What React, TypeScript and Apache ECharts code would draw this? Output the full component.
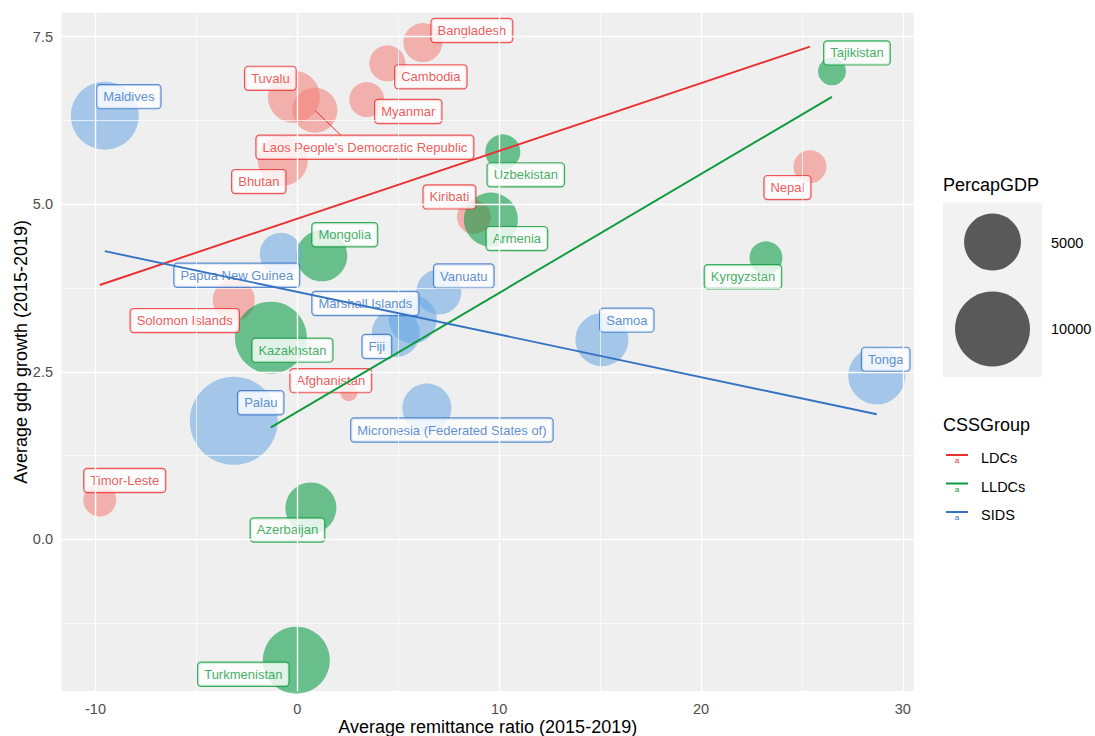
import React, { useEffect, useRef } from "react";
import * as echarts from "echarts";

// ---------- data ----------
const ldcNames = ["Bangladesh", "Cambodia", "Myanmar", "Tuvalu", "Laos People's Democratic Republic", "Bhutan", "Kiribati", "Solomon Islands", "Afghanistan", "Timor-Leste", "Nepal"];
const ldcRemit = [6.22, 4.46, 3.44, -0.17, 0.87, -0.72, 8.75, -3.15, 2.55, -9.79, 25.4];
const ldcGrowth = [7.41, 7.1, 6.56, 6.6, 6.4, 5.65, 4.81, 3.57, 2.19, 0.59, 5.56];
const ldcGdp = [1870, 1520, 1420, 3960, 2720, 3580, 1320, 2270, 500, 1220, 1220];

const lldcNames = ["Tajikistan", "Uzbekistan", "Armenia", "Mongolia", "Kyrgyzstan", "Kazakhstan", "Azerbaijan", "Turkmenistan"];
const lldcRemit = [26.49, 10.18, 9.59, 1.21, 23.22, -1.31, 0.67, -0.05];
const lldcGrowth = [6.98, 5.78, 4.77, 4.23, 4.2, 3.01, 0.47, -1.8];
const lldcGdp = [840, 1420, 4370, 3770, 1220, 9050, 3770, 7570];

const sidsNames = ["Maldives", "Papua New Guinea", "Vanuatu", "Marshall Islands", "Fiji", "Samoa", "Tonga", "Palau", "Micronesia (Federated States of)"];
const sidsRemit = [-9.54, -0.82, 7.01, 5.72, 4.88, 15.09, 28.71, -3.15, 6.42];
const sidsGrowth = [6.32, 4.26, 3.69, 3.28, 3.08, 2.98, 2.44, 1.77, 1.96];
const sidsGdp = [7850, 2270, 2720, 3220, 3220, 4160, 5020, 14750, 3390];

const xTicks = [-10, 0, 10, 20, 30];
const yTicks = [0, 2.5, 5, 7.5];
const xMinor = [-5, 5, 15, 25];
const yMinor = [-1.25, 1.25, 3.75, 6.25];
const sizeLegendValues = [5000, 10000];
const groupNames = ["LDCs", "LLDCs", "SIDS"];

// ---------- label placement (pixel offsets from the point, repel-style) ----------
const ldcLabelOffset = [[49, -12], [43.5, 13.5], [41.5, 12], [-23.5, -18.5], [50, 37], [-24, 21], [-24.5, -20], [-49, 20.5], [-18, -12], [25, -19.5], [-22.5, 21]];
const lldcLabelOffset = [[25, -18.5], [23, 23], [26, 19], [23, -21], [-23, 19], [21.5, 12.5], [-23.4, 22], [-53, 14]];
const sidsLabelOffset = [[24, -19], [-44, 21.5], [25, -16], [-47.4, -16], [-19, 13.5], [25, -19.5], [9, -16.5], [27, -18], [25, 22]];
const laosSegmentEnd = [26, 25];

// ---------- styles ----------
const lineColors = ["#EB2F2F", "#0C9B3A", "#3473C4"];
const bubbleColors = ["rgba(244,126,120,0.7)", "rgba(0,154,62,0.7)", "rgba(103,166,229,0.7)"];
const FONT = "'Liberation Sans', Arial, Helvetica, sans-serif";

const sizeOf = (g: number) => 17 + 71 * Math.sqrt(Math.max(0, g - 500) / 14250);

function fit(xs: number[], ys: number[]) {
  const n = xs.length;
  const mx = xs.reduce((a, b) => a + b, 0) / n;
  const my = ys.reduce((a, b) => a + b, 0) / n;
  let sxy = 0, sxx = 0;
  for (let i = 0; i < n; i++) {
    sxy += (xs[i] - mx) * (ys[i] - my);
    sxx += (xs[i] - mx) * (xs[i] - mx);
  }
  const b = sxy / sxx;
  const a = my - b * mx;
  const x0 = Math.min(...xs), x1 = Math.max(...xs);
  return [[x0, a + b * x0], [x1, a + b * x1]];
}

const groups = [
  { names: ldcNames, xs: ldcRemit, ys: ldcGrowth, gdp: ldcGdp, off: ldcLabelOffset },
  { names: lldcNames, xs: lldcRemit, ys: lldcGrowth, gdp: lldcGdp, off: lldcLabelOffset },
  { names: sidsNames, xs: sidsRemit, ys: sidsGrowth, gdp: sidsGdp, off: sidsLabelOffset },
];

export default function App() {
  const ref = useRef<HTMLDivElement>(null);
  useEffect(() => {
    if (!ref.current) return;
    document.body.style.margin = "0";
    document.body.style.overflow = "hidden";
    const chart = echarts.init(ref.current, undefined, { renderer: "svg" });

    const gridMark = {
      silent: true,
      symbol: ["none", "none"],
      label: { show: false },
      emphasis: { disabled: true },
      lineStyle: { color: "#FFFFFF", type: "solid", width: 1.4 },
      data: [
        ...xTicks.map((v) => ({ xAxis: v, lineStyle: { color: "#FFFFFF", width: 1.4, type: "solid" } })),
        ...xMinor.map((v) => ({ xAxis: v, lineStyle: { color: "#FFFFFF", width: 0.7, type: "solid" } })),
        ...yTicks.map((v) => ({ yAxis: v, lineStyle: { color: "#FFFFFF", width: 1.4, type: "solid" } })),
        ...yMinor.map((v) => ({ yAxis: v, lineStyle: { color: "#FFFFFF", width: 0.7, type: "solid" } })),
      ],
    };

    const series: any[] = [
      { type: "scatter", name: "grid", data: [], z: 1, silent: true, markLine: gridMark },
    ];

    groups.forEach((g, gi) => {
      series.push({
        type: "scatter",
        name: groupNames[gi] + "-points",
        z: 2,
        silent: true,
        clip: true,
        data: g.xs.map((x, i) => [x, g.ys[i], g.gdp[i]]),
        symbolSize: (val: number[]) => sizeOf(val[2]),
        itemStyle: { color: bubbleColors[gi] },
      });
    });

    // Laos segment
    series.push({
      type: "custom",
      name: "segment",
      z: 3,
      silent: true,
      data: [[ldcRemit[4], ldcGrowth[4]]],
      renderItem: (_params: any, api: any) => {
        const p = api.coord([api.value(0), api.value(1)]);
        return {
          type: "line",
          shape: { x1: p[0], y1: p[1], x2: p[0] + laosSegmentEnd[0], y2: p[1] + laosSegmentEnd[1] },
          style: { stroke: lineColors[0], lineWidth: 1 },
        };
      },
    });

    groups.forEach((g, gi) => {
      series.push({
        type: "scatter",
        name: groupNames[gi] + "-labels",
        z: 4,
        silent: true,
        clip: false,
        symbolSize: 1,
        itemStyle: { color: "rgba(0,0,0,0)" },
        data: g.xs.map((x, i) => ({
          value: [x, g.ys[i]],
          name: g.names[i],
          label: { offset: g.off[i] },
        })),
        label: {
          show: true,
          position: "inside",
          formatter: "{b}",
          fontFamily: FONT,
          fontSize: 13,
          lineHeight: 15,
          color: lineColors[gi],
          backgroundColor: "#FFFFFF",
          borderColor: lineColors[gi],
          borderWidth: 1.2,
          borderRadius: 3,
          padding: [4, 6, 4, 6],
        },
      });
    });

    groups.forEach((g, gi) => {
      series.push({
        type: "line",
        name: groupNames[gi],
        z: 5,
        silent: true,
        symbol: "none",
        data: fit(g.xs, g.ys),
        lineStyle: { color: lineColors[gi], width: 1.9 },
      });
    });

    const s5 = sizeOf(sizeLegendValues[0]);
    const s10 = sizeOf(sizeLegendValues[1]);
    const graphic: any[] = [
      { type: "text", left: 943, top: 176, style: { text: "PercapGDP", font: `18px ${FONT}`, fill: "#000" } },
      { type: "rect", shape: { x: 943, y: 203, width: 99, height: 174 }, style: { fill: "#F2F2F2" } },
      { type: "circle", shape: { cx: 992.5, cy: 242, r: s5 / 2 }, style: { fill: "#595959" } },
      { type: "circle", shape: { cx: 992.5, cy: 329, r: s10 / 2 }, style: { fill: "#595959" } },
      { type: "text", left: 1051, top: 235, style: { text: String(sizeLegendValues[0]), font: `14.5px ${FONT}`, fill: "#000" } },
      { type: "text", left: 1051, top: 321, style: { text: String(sizeLegendValues[1]), font: `14.5px ${FONT}`, fill: "#000" } },
      { type: "text", left: 943, top: 416, style: { text: "CSSGroup", font: `18px ${FONT}`, fill: "#000" } },
    ];
    const keyY = [458, 486.5, 515];
    groupNames.forEach((nm, gi) => {
      const y = keyY[gi];
      graphic.push({ type: "line", shape: { x1: 946, y1: y - 3, x2: 968, y2: y - 3 }, style: { stroke: lineColors[gi], lineWidth: 2 } });
      graphic.push({ type: "text", x: 957, y: y + 2.5, style: { text: "a", font: `8px ${FONT}`, fill: lineColors[gi], align: "center", verticalAlign: "middle" } });
      graphic.push({ type: "text", x: 981, y: y, style: { text: nm, font: `14.5px ${FONT}`, fill: "#000", verticalAlign: "middle" } });
    });

    chart.setOption({
      animation: false,
      backgroundColor: "#FFFFFF",
      textStyle: { fontFamily: FONT },
      grid: {
        left: 61.5,
        right: 181,
        top: 12.7,
        bottom: 45,
        show: true,
        backgroundColor: "#EFEFEF",
        borderWidth: 0,
        containLabel: false,
        outerBoundsMode: "none",
      },
      xAxis: {
        type: "value",
        min: -11.685,
        max: 30.555,
        name: "Average remittance ratio (2015-2019)",
        nameLocation: "middle",
        nameGap: 35.5,
        nameMoveOverlap: false,
        nameTextStyle: { fontSize: 18, color: "#000", fontFamily: FONT, verticalAlign: "middle" },
        axisLine: { show: false },
        axisTick: { show: true, length: 4, lineStyle: { color: "#333", width: 1.1 }, customValues: xTicks },
        axisLabel: { customValues: xTicks, color: "#4D4D4D", fontSize: 14.5, fontFamily: FONT, margin: 10 },
        splitLine: { show: false },
      },
      yAxis: {
        type: "value",
        min: -2.259,
        max: 7.855,
        name: "Average gdp growth (2015-2019)",
        nameLocation: "middle",
        nameGap: 41,
        nameRotate: 90,
        nameMoveOverlap: false,
        nameTextStyle: { fontSize: 18, color: "#000", fontFamily: FONT, verticalAlign: "middle" },
        axisLine: { show: false },
        axisTick: { show: true, length: 4, lineStyle: { color: "#333", width: 1.1 }, customValues: yTicks },
        axisLabel: {
          customValues: yTicks,
          color: "#4D4D4D",
          fontSize: 14.5,
          fontFamily: FONT,
          margin: 8.5,
          formatter: (v: number) => v.toFixed(1),
        },
        splitLine: { show: false },
      },
      series,
      graphic,
    });

    return () => chart.dispose();
  }, []);

  return <div ref={ref} style={{ position: "absolute", left: 0, top: 0, width: 1095, height: 736 }} />;
}
